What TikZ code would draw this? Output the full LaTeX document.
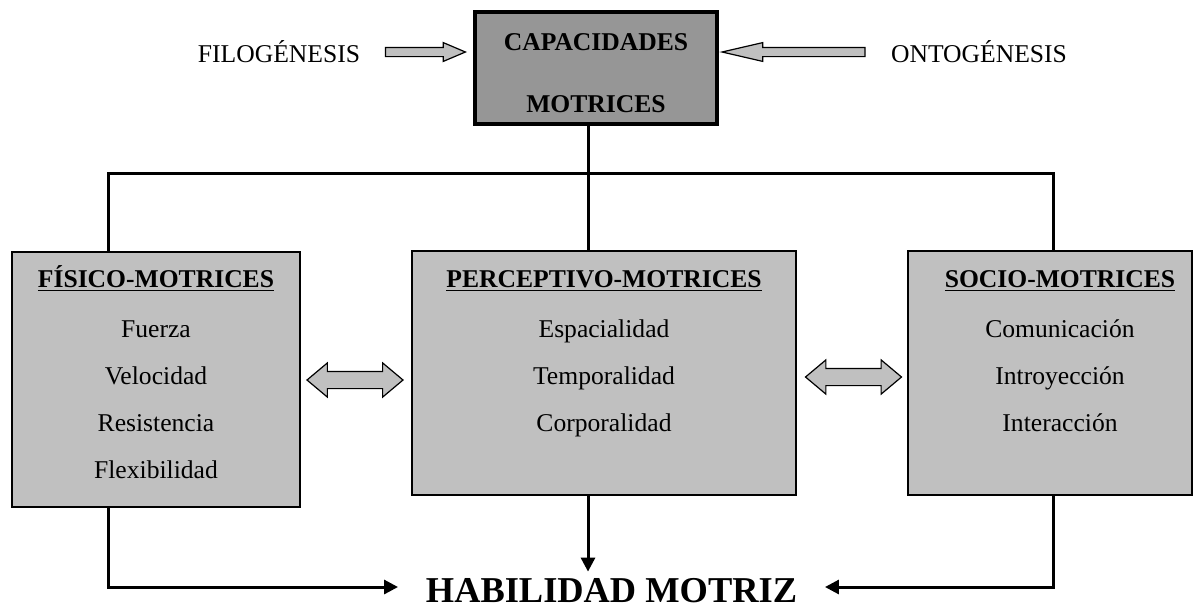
\documentclass[tikz,border=0pt]{standalone}
\usepackage{fontspec}
\setmainfont{Liberation Serif}
\usetikzlibrary{arrows.meta,shapes.arrows}

\definecolor{plata}{RGB}{192,192,192}
\definecolor{grisosc}{RGB}{150,150,150}

\begin{document}
\begin{tikzpicture}[x=0.5pt, y=-0.5pt, font=\fontsize{12.8}{15}\selectfont,
  caja/.style={draw, line width=1.1pt, fill=plata, inner sep=0pt},
  flecha/.style={single arrow, draw, fill=plata, line width=0.6pt, inner sep=2pt,
    single arrow head extend=2.4pt},
  dflecha/.style={double arrow, draw, fill=plata, line width=0.6pt, inner sep=4pt,
    double arrow head extend=4.25pt, double arrow tip angle=80, minimum height=48pt},
  linea/.style={line width=1.5pt},
  punta/.style={-{Triangle[length=7pt,width=7pt]}}]
  \useasboundingbox (0,0) rectangle (1204,607);

  % arriba
  \node[caja, fill=grisosc, line width=1.6pt, minimum width=121pt, minimum height=56pt] (cap) at (596,68) {};
  \node[anchor=base] (cap1) at (596,50) {\textbf{CAPACIDADES}};
  \node[anchor=base] (cap2) at (596,112) {\textbf{MOTRICES}};

  \node[anchor=base] (filo) at (279,62) {FILOGÉNESIS};
  \node[anchor=base] (onto) at (979,62) {ONTOGÉNESIS};
  \node[flecha, minimum height=40pt, single arrow tip angle=46] (fa) at (420,52) {};
  \node[flecha, minimum height=71.5pt, single arrow tip angle=26, shape border rotate=180] (oa) at (803.5,52) {};

  % cajas
  \node[caja, minimum width=144pt, minimum height=127.5pt] (fis) at (156,379.5) {};
  \node[caja, minimum width=192pt, minimum height=122pt] (per) at (604,373) {};
  \node[caja, minimum width=142pt, minimum height=122pt] (soc) at (1050,373) {};

  \node[anchor=base] (fis0) at (156,287) {\textbf{\underline{FÍSICO-MOTRICES}}};
  \node[anchor=base] (fis1) at (156,337) {Fuerza};
  \node[anchor=base] (fis2) at (156,384) {Velocidad};
  \node[anchor=base] (fis3) at (156,431) {Resistencia};
  \node[anchor=base] (fis4) at (156,478) {Flexibilidad};

  \node[anchor=base] (per0) at (604,287) {\textbf{\underline{PERCEPTIVO-MOTRICES}}};
  \node[anchor=base] (per1) at (604,337) {Espacialidad};
  \node[anchor=base] (per2) at (604,384) {Temporalidad};
  \node[anchor=base] (per3) at (604,431) {Corporalidad};

  \node[anchor=base] (soc0) at (1060,287) {\textbf{\underline{SOCIO-MOTRICES}}};
  \node[anchor=base] (soc1) at (1060,337) {Comunicación};
  \node[anchor=base] (soc2) at (1060,384) {Introyección};
  \node[anchor=base] (soc3) at (1060,431) {Interacción};

  \node[dflecha] (lda) at (355,380) {};
  \node[dflecha] (rda) at (853.5,377) {};

  \node[anchor=base, inner xsep=13.75pt, inner ysep=0pt, text height=15pt, text depth=0pt,
    font=\fontsize{18.2}{20}\selectfont\bfseries] (hab) at (611.5,602) {HABILIDAD MOTRIZ};

  % conexiones
  \coordinate (izq) at (108,173);
  \coordinate (cen) at (588,173);
  \coordinate (der) at (1053,173);
  \draw[linea] (cap.south -| cen) -- (cen);
  \draw[linea] (fis.north -| izq) -- (izq) -- (der) -- (soc.north -| der);
  \draw[linea] (cen) -- (per.north -| cen);

  \draw[linea, punta] (fis.south -| izq) |- (hab.west);
  \draw[linea, punta] (per.south -| cen) -- (cen |- hab.north);
  \draw[linea, punta] (soc.south -| der) |- (hab.east);
\end{tikzpicture}
\end{document}
